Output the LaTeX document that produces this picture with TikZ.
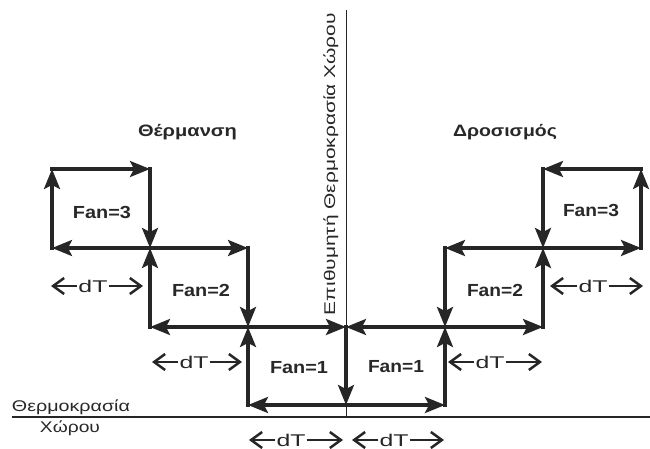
\documentclass[tikz,border=0pt]{standalone}
\usepackage{fontspec}
\setmainfont{Liberation Sans}
\usepackage{graphicx}
\usetikzlibrary{arrows.meta}
\definecolor{ink}{RGB}{38,38,38}
\definecolor{txt}{RGB}{40,40,40}
\newcommand{\sw}[2]{\resizebox{#1}{\height}{#2}}
\begin{document}
\begin{tikzpicture}[x=1pt,y=-1pt,
  flow/.style={line width=3.2pt, draw=ink, line cap=rect, -{Stealth[length=20pt,width=16pt,inset=4pt]}},
  axisline/.style={line width=1.5pt, draw=ink},
  dtarrow/.style={line width=1.4pt, draw=ink, -{Straight Barb[length=11pt,width=16pt,line width=2.5pt]}},
  fanlbl/.style={font=\fontsize{17.5}{19}\selectfont\bfseries, text=txt, inner sep=0pt},
  ttl/.style={font=\fontsize{16.5}{19}\selectfont\bfseries, text=txt, inner sep=0pt},
  lbl/.style={font=\fontsize{15.5}{17}\selectfont, text=txt, inner sep=0pt},
  dtlbl/.style={font=\fontsize{17}{19}\selectfont, text=txt, inner sep=1pt},
]
\useasboundingbox (0,0) rectangle (650,449);

% grid points
\coordinate (pa2) at (52,248);  \coordinate (pa3) at (52,169);
\coordinate (pb1) at (150,327); \coordinate (pb2) at (150,248); \coordinate (pb3) at (150,169);
\coordinate (pc0) at (248,405); \coordinate (pc1) at (248,327); \coordinate (pc2) at (248,248);
\coordinate (pd0) at (346,405); \coordinate (pd1) at (346,327);
\coordinate (pe0) at (445,405); \coordinate (pe1) at (445,327); \coordinate (pe2) at (445,248);
\coordinate (pf1) at (543,327); \coordinate (pf2) at (543,248); \coordinate (pf3) at (543,169);
\coordinate (pg2) at (641,248); \coordinate (pg3) at (641,169);

% axes
\coordinate (axtop) at (346.5,10);  \coordinate (axbot) at (346.5,417);
\coordinate (blleft) at (12,417);   \coordinate (blright) at (650,417);
\draw[axisline] (axtop) -- (axbot);
\draw[axisline] (blleft) -- (blright);

% heating side
\draw[flow] (pa2) -- (pa3);
\draw[flow] (pa3) -- (pb3);
\draw[flow] (pb3) -- (pb2);
\draw[flow] (pb1) -- (pb2);
\draw[flow] (pb2) -- (pa2);
\draw[flow] (pb2) -- (pc2);
\draw[flow] (pc2) -- (pc1);
\draw[flow] (pc0) -- (pc1);
\draw[flow] (pc1) -- (pb1);
\draw[flow] (pc1) -- (pd1);
\draw[flow] (pd1) -- (pd0);
\draw[flow] (pd0) -- (pc0);
% cooling side
\draw[flow] (pd0) -- (pe0);
\draw[flow] (pe0) -- (pe1);
\draw[flow] (pe1) -- (pd1);
\draw[flow] (pe1) -- (pf1);
\draw[flow] (pe2) -- (pe1);
\draw[flow] (pf1) -- (pf2);
\draw[flow] (pf2) -- (pe2);
\draw[flow] (pf2) -- (pg2);
\draw[flow] (pf3) -- (pf2);
\draw[flow] (pg2) -- (pg3);
\draw[flow] (pg3) -- (pf3);

% titles
\node[ttl] (heat) at (187.5,132) {\sw{99pt}{Θέρμανση}};
\node[ttl] (cool) at (505,132) {\sw{104pt}{Δροσισμός}};

% fan labels
\node[fanlbl] (fl3) at (102,212) {\sw{58pt}{Fan=3}};
\node[fanlbl] (fl2) at (201,290) {\sw{58pt}{Fan=2}};
\node[fanlbl] (fl1) at (299,368) {\sw{58pt}{Fan=1}};
\node[fanlbl] (fr1) at (396,367) {\sw{56pt}{Fan=1}};
\node[fanlbl] (fr2) at (495,290) {\sw{56pt}{Fan=2}};
\node[fanlbl] (fr3) at (591,210) {\sw{56pt}{Fan=3}};

% axis labels
\node[lbl, rotate=90] (setp) at (331,164) {\sw{302pt}{Επιθυμητή Θερμοκρασία Χώρου}};
\node[lbl] (rt1) at (71,407) {\sw{118pt}{Θερμοκρασία}};
\node[lbl] (rt2) at (70,428) {\sw{60pt}{Χώρου}};

% dT markers
\coordinate (t1l) at (51,286);  \coordinate (t1r) at (143,286);
\coordinate (t2l) at (152,362); \coordinate (t2r) at (242,362);
\coordinate (t3l) at (249,440); \coordinate (t3r) at (343,440);
\coordinate (t4l) at (352,440); \coordinate (t4r) at (444,440);
\coordinate (t5l) at (448,362); \coordinate (t5r) at (542,362);
\coordinate (t6l) at (550,286); \coordinate (t6r) at (643,286);
\node[dtlbl] (dt1) at (93,286) {\sw{29pt}{dT}};
\node[dtlbl] (dt2) at (194,362) {\sw{29pt}{dT}};
\node[dtlbl] (dt3) at (291,440) {\sw{29pt}{dT}};
\node[dtlbl] (dt4) at (394,440) {\sw{29pt}{dT}};
\node[dtlbl] (dt5) at (490,362) {\sw{29pt}{dT}};
\node[dtlbl] (dt6) at (593,286) {\sw{29pt}{dT}};
\foreach \i in {1,...,6}{
  \draw[dtarrow] (dt\i.west) -- (t\i l);
  \draw[dtarrow] (dt\i.east) -- (t\i r);
}
\end{tikzpicture}
\end{document}
